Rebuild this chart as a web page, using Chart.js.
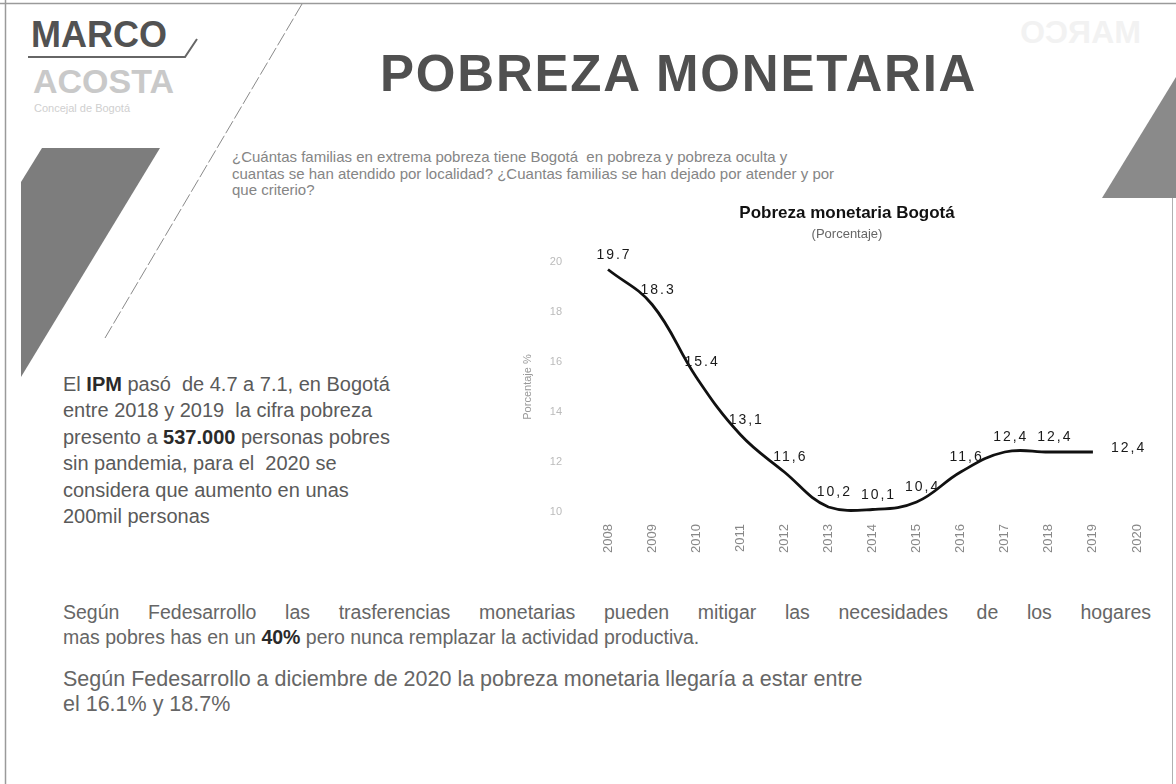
<!DOCTYPE html>
<html lang="es">
<head>
<meta charset="utf-8">
<title>Pobreza monetaria</title>
<script src="https://cdn.jsdelivr.net/npm/chart.js@4.4.1/dist/chart.umd.min.js"></script>
<style>
  body { margin:0; width:1176px; height:784px; background:#fff; position:relative; overflow:hidden;
         font-family:"Liberation Sans", Arial, sans-serif; }
  .abs { position:absolute; white-space:nowrap; }
  #deco { position:absolute; left:0; top:0; }
  #marco { left:31px; top:17px; font-size:36px; line-height:36px; font-weight:bold; color:#525252; }
  #acosta { left:33px; top:64px; font-size:34px; line-height:34px; font-weight:bold; color:#c9c9c9; }
  #concejal { left:34px; top:102px; font-size:11px; color:#cfcfcf; }
  #ghost { left:1020px; top:14px; font-size:32px; font-weight:bold; color:#f2f2f2; transform:scaleX(-1); }
  #title { left:380px; top:48px; font-size:51px; line-height:51px; font-weight:bold; color:#505050; letter-spacing:1.8px; }
  #question { left:232px; top:149px; font-size:15px; line-height:16.5px; color:#858585; }
  #ipm { left:63px; top:371px; font-size:20px; line-height:26.4px; color:#5a5a5a; }
  #notes { left:63px; top:600px; line-height:25px; color:#666; }
  #notes p { margin:0 0 17px 0; }
  #notes .p1 { font-size:19.5px; }
  #notes .p2 { font-size:21.5px; }
  #notes .just { display:block; width:1088px; text-align:justify; text-align-last:justify; }
  b { color:#2a2a2a; }
  #chartBox { position:absolute; left:500px; top:195px; width:676px; height:372px; }
</style>
</head>
<body>
<svg id="deco" width="1176" height="784">
  <line x1="0" y1="3.5" x2="1176" y2="3.5" stroke="#9a9a9a" stroke-width="1.5"/>
  <line x1="5.5" y1="0" x2="5.5" y2="784" stroke="#9a9a9a" stroke-width="1.5"/>
  <line x1="1172.5" y1="198" x2="1172.5" y2="784" stroke="#b0b0b0" stroke-width="1"/>
  <line x1="302" y1="4" x2="105" y2="338" stroke="#8a8a8a" stroke-width="1" stroke-dasharray="14 3"/>
  <polyline points="28,57 185,57 197,39" fill="none" stroke="#666" stroke-width="2"/>
  <polygon points="42,148 160,148 21,377 21,182" fill="#7d7d7d"/>
  <polygon points="1102,198 1176,77 1176,198" fill="#8a8a8a"/>
</svg>

<div id="marco" class="abs">MARCO</div>
<div id="acosta" class="abs">ACOSTA</div>
<div id="concejal" class="abs">Concejal de Bogotá</div>
<div id="ghost" class="abs">MARCO</div>
<div id="title" class="abs">POBREZA MONETARIA</div>

<div id="question" class="abs">¿Cuántas familias en extrema pobreza tiene Bogotá&nbsp; en pobreza y pobreza oculta y<br>cuantas se han atendido por localidad? ¿Cuantas familias se han dejado por atender y por<br>que criterio?</div>

<div id="ipm" class="abs">El <b>IPM</b> pasó&nbsp; de 4.7 a 7.1, en Bogotá<br>entre 2018 y 2019&nbsp; la cifra pobreza<br>presento a <b>537.000</b> personas pobres<br>sin pandemia, para el&nbsp; 2020 se<br>considera que aumento en unas<br>200mil personas</div>

<div id="notes" class="abs">
  <p class="p1"><span class="just">Según Fedesarrollo las trasferencias monetarias pueden mitigar las necesidades de los hogares</span>mas pobres has en un <b>40%</b> pero nunca remplazar la actividad productiva.</p>
  <p class="p2">Según Fedesarrollo a diciembre de 2020 la pobreza monetaria llegaría a estar entre<br>el 16.1% y 18.7%</p>
</div>

<div id="chartBox"><canvas id="pobrezaChart"></canvas></div>

<script>
const years = ['2008', '2009', '2010', '2011', '2012', '2013', '2014',
               '2015', '2016', '2017', '2018', '2019', '2020'];
const povertyRate = [19.7, 18.3, 15.4, 13.1, 11.6, 10.2, 10.1, 10.4, 11.6, 12.4, 12.4, 12.4];
const rateLabels = ['19.7', '18.3', '15.4', '13,1', '11,6', '10,2', '10,1', '10,4', '11,6', '12,4', '12,4', '12,4'];
const yMin = 10;
const yMax = 20;
const yStep = 2;

const FONT = '"Liberation Sans", Arial, sans-serif';

// etiquetas de valor sobre la curva (la ultima va a la derecha)
const valueLabels = {
  id: 'valueLabels',
  afterDatasetsDraw(chart) {
    const ctx = chart.ctx;
    const pts = chart.getDatasetMeta(0).data;
    ctx.save();
    ctx.font = '14px ' + FONT;
    ctx.fillStyle = '#1a1a1a';
    ctx.letterSpacing = '2px';
    pts.forEach((p, i) => {
      if (i === pts.length - 1) {
        ctx.textAlign = 'left';
        ctx.textBaseline = 'middle';
        ctx.fillText(rateLabels[i], p.x + 18, p.y - 4);
      } else {
        ctx.textAlign = 'center';
        ctx.textBaseline = 'alphabetic';
        ctx.fillText(rateLabels[i], p.x + 6, p.y - 11);
      }
    });
    ctx.restore();
  }
};

new Chart(document.getElementById('pobrezaChart'), {
  type: 'line',
  data: {
    labels: years,
    datasets: [{
      data: povertyRate,
      borderColor: '#111',
      borderWidth: 2.8,
      pointRadius: 0,
      tension: 0.4,
      fill: false,
      clip: false
    }]
  },
  options: {
    responsive: true,
    maintainAspectRatio: false,
    animation: false,
    layout: { padding: { left: 18, right: 0, top: 0, bottom: 0 } },
    plugins: {
      legend: { display: false },
      tooltip: { enabled: false },
      title: {
        display: true,
        text: 'Pobreza monetaria Bogotá',
        color: '#111',
        font: { family: FONT, size: 17, weight: 'bold' },
        padding: { top: 8, bottom: 2 }
      },
      subtitle: {
        display: true,
        text: '(Porcentaje)',
        color: '#666',
        font: { family: FONT, size: 13 },
        padding: { top: 1, bottom: 20 }
      }
    },
    scales: {
      x: {
        grid: { display: false, drawTicks: false },
        border: { display: false },
        ticks: { color: '#888', font: { family: FONT, size: 13 }, minRotation: 90, maxRotation: 90, autoSkip: false, padding: 12 },
        afterFit(scale) { scale.height = 55; }
      },
      y: {
        min: yMin,
        max: yMax,
        grid: { display: false, drawTicks: false },
        border: { display: false },
        ticks: { stepSize: yStep, color: '#bbb', font: { family: FONT, size: 11 }, padding: 46 },
        title: { display: true, text: 'Porcentaje %', color: '#999', font: { family: FONT, size: 11 }, padding: { top: 3, bottom: 0 } },
        afterFit(scale) { scale.width = 90; }
      },
      // empty right axis: keeps room for the last label, title stays centred on the box
      yRight: {
        position: 'right',
        min: yMin,
        max: yMax,
        grid: { display: false, drawTicks: false },
        border: { display: false },
        ticks: { display: false },
        afterFit(scale) { scale.width = 39; }
      }
    }
  },
  plugins: [valueLabels]
});
</script>
</body>
</html>
